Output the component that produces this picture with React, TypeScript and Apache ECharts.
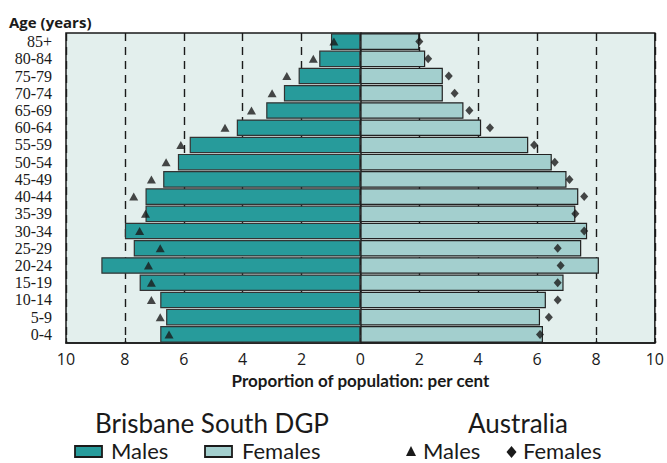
import React, { useEffect, useRef } from "react";
import * as echarts from "echarts";

const ageGroups = ["0-4", "5-9", "10-14", "15-19", "20-24", "25-29", "30-34", "35-39", "40-44", "45-49", "50-54", "55-59", "60-64", "65-69", "70-74", "75-79", "80-84", "85+"];
// Brisbane South DGP (per cent), bottom (0-4) to top (85+)
const localMales = [6.8, 6.6, 6.8, 7.5, 8.8, 7.7, 8.0, 7.3, 7.3, 6.7, 6.2, 5.8, 4.2, 3.2, 2.6, 2.1, 1.4, 1.0];
const localFemales = [6.2, 6.1, 6.3, 6.9, 8.1, 7.5, 7.7, 7.3, 7.4, 7.0, 6.5, 5.7, 4.1, 3.5, 2.8, 2.8, 2.2, 2.0];
// Australia (per cent)
const ausMales = [6.5, 6.8, 7.1, 7.1, 7.2, 6.8, 7.5, 7.3, 7.7, 7.1, 6.6, 6.1, 4.6, 3.7, 3.0, 2.5, 1.6, 0.9];
const ausFemales = [6.1, 6.4, 6.7, 6.7, 6.8, 6.7, 7.6, 7.3, 7.6, 7.1, 6.6, 5.9, 4.4, 3.7, 3.2, 3.0, 2.3, 2.0];

const TEAL = "#279b9b";
const LIGHT = "#a3cfce";
const BG = "#e3efed";
const INK = "#1a1a1a";

export default function App() {
  const ref = useRef<HTMLDivElement>(null);
  useEffect(() => {
    if (!ref.current) return;
    const chart = echarts.init(ref.current, null, { renderer: "svg" });
    const headFont = "26px Lato";
    const rowFont = "22px Lato";
    const rowMid = 450;
    const headMid = 423;
    chart.setOption({
      animation: false,
      backgroundColor: "#ffffff",
      grid: {
        left: 66,
        right: 6,
        top: 33,
        bottom: 120,
        show: true,
        backgroundColor: BG,
        borderColor: INK,
        borderWidth: 1.5,
        containLabel: false,
      },
      xAxis: {
        type: "value",
        min: -10,
        max: 10,
        interval: 2,
        name: "Proportion of population: per cent",
        nameLocation: "middle",
        nameGap: 28,
        nameTextStyle: { fontFamily: "Lato", fontWeight: "bold", fontSize: 17, color: INK },
        axisLine: { show: true, lineStyle: { color: INK, width: 1.5 } },
        axisTick: { show: true, inside: true, length: 5, lineStyle: { color: INK, width: 1.2 } },
        axisLabel: {
          formatter: (v: number) => String(Math.abs(v)),
          fontFamily: "Open Sans",
          fontSize: 16,
          color: INK,
          margin: 8,
        },
        splitLine: { show: true, lineStyle: { color: INK, type: [8, 6], width: 1.4 } },
      },
      yAxis: {
        type: "category",
        data: ageGroups,
        axisLine: { show: true, lineStyle: { color: INK, width: 1.5 } },
        axisTick: { show: false },
        axisLabel: { interval: 0, fontFamily: "Liberation Serif", fontSize: 16, color: INK, margin: 14 },
        splitLine: { show: false },
      },
      series: [
        {
          name: "Males",
          type: "bar",
          data: localMales.map((v) => -v),
          barGap: "-100%",
          barCategoryGap: "4%",
          itemStyle: { color: TEAL, borderColor: "#333", borderWidth: 1.2 },
          z: 2,
        },
        {
          name: "Females",
          type: "bar",
          data: localFemales,
          barGap: "-100%",
          barCategoryGap: "4%",
          itemStyle: { color: LIGHT, borderColor: "#222", borderWidth: 1.2 },
          z: 2,
        },
        {
          name: "Australia Males",
          type: "scatter",
          data: ausMales.map((v, i) => [-v, i]),
          symbol: "triangle",
          symbolSize: [9, 8],
          itemStyle: { color: INK },
          z: 5,
        },
        {
          name: "Australia Females",
          type: "scatter",
          data: ausFemales.map((v, i) => [v, i]),
          symbol: "diamond",
          symbolSize: [8, 9],
          itemStyle: { color: INK },
          z: 5,
        },
      ],
      graphic: [
        {
          type: "text",
          x: 9,
          y: 22,
          style: { text: "Age (years)", font: "bold 15px 'Open Sans'", fill: INK, textVerticalAlign: "middle" },
        },
        {
          type: "text",
          x: 212,
          y: headMid,
          style: { text: "Brisbane South DGP", font: headFont, fill: INK, textAlign: "center", textVerticalAlign: "middle" },
        },
        {
          type: "text",
          x: 518,
          y: headMid,
          style: { text: "Australia", font: headFont, fill: INK, textAlign: "center", textVerticalAlign: "middle" },
        },
        {
          type: "rect",
          shape: { x: 75, y: 446, width: 27, height: 11 },
          style: { fill: TEAL, stroke: INK, lineWidth: 1.8 },
        },
        {
          type: "text",
          x: 111,
          y: rowMid,
          style: { text: "Males", font: rowFont, fill: INK, textVerticalAlign: "middle" },
        },
        {
          type: "rect",
          shape: { x: 205, y: 446, width: 27, height: 11 },
          style: { fill: LIGHT, stroke: INK, lineWidth: 1.8 },
        },
        {
          type: "text",
          x: 242,
          y: rowMid,
          style: { text: "Females", font: rowFont, fill: INK, textVerticalAlign: "middle" },
        },
        {
          type: "polygon",
          shape: { points: [[411, 446], [416, 456], [406, 456]] },
          style: { fill: INK },
        },
        {
          type: "text",
          x: 423,
          y: rowMid,
          style: { text: "Males", font: rowFont, fill: INK, textVerticalAlign: "middle" },
        },
        {
          type: "polygon",
          shape: { points: [[511.5, 446], [516.5, 452], [511.5, 458], [506.5, 452]] },
          style: { fill: INK },
        },
        {
          type: "text",
          x: 523,
          y: rowMid,
          style: { text: "Females", font: rowFont, fill: INK, textVerticalAlign: "middle" },
        },
      ],
    });
    return () => chart.dispose();
  }, []);
  return <div ref={ref} style={{ position: "absolute", left: 0, top: 0, width: 667, height: 463 }} />;
}
